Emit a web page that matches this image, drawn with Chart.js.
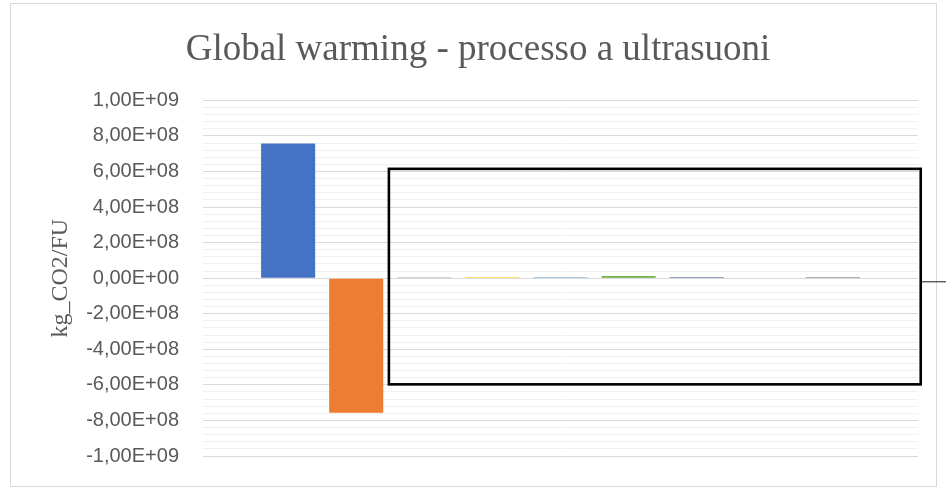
<!DOCTYPE html>
<html>
<head>
<meta charset="utf-8">
<title>Global warming - processo a ultrasuoni</title>
<script src="https://cdn.jsdelivr.net/npm/chart.js@4/dist/chart.umd.min.js"></script>
<style>
  html, body { margin: 0; padding: 0; background: #ffffff; }
  #wrap { position: relative; width: 946px; height: 495px; overflow: hidden; }
  #frame { position: absolute; left: 10px; top: 3px; width: 925px; height: 482px; border: 1px solid #d9d9d9; }
  #chart { position: absolute; left: 0; top: 0; }
</style>
</head>
<body>
<div id="wrap">
  <div id="frame"></div>
  <canvas id="chart" width="946" height="495"></canvas>
</div>
<script>
// Contributions to global warming of the ultrasound process, kg CO2 per functional unit
const categories = ['Contributo 1', 'Contributo 2', 'Contributo 3', 'Contributo 4', 'Contributo 5',
                    'Contributo 6', 'Contributo 7', 'Contributo 8', 'Contributo 9'];
const values = [7.57e8, -7.57e8, 6e6, 6e6, 6e6, 1.3e7, 6e6, 0, 6e6];
const barColors = ['#4472C4', '#ED7D31', '#A5A5A5', '#FFC000', '#5B9BD5', '#70AD47', '#264478', '#9E480E', '#636363'];

// value axis
const yMin = -1e9;
const yMax = 1e9;
const majorStep = 2e8;
const minorStep = 4e7;

// highlight frame around the small contributions (data units), with its leader line
const highlight = { xFrom: 1.48, xTo: 9.29, yFrom: -5.97e8, yTo: 6.15e8, leaderY: -2.0e7 };

function sciComma(v) {
  if (Math.abs(v) < 1) return '0,00E+00';
  const [mant, exp] = v.toExponential(2).split('e');
  const e = parseInt(exp, 10);
  const sign = e < 0 ? '-' : '+';
  const digits = String(Math.abs(e)).padStart(2, '0');
  return mant.replace('.', ',') + 'E' + sign + digits;
}

const isMajor = v => Math.round(v / minorStep) % Math.round(majorStep / minorStep) === 0;

const highlightPlugin = {
  id: 'highlightFrame',
  afterDatasetsDraw(chart) {
    const { ctx, scales: { x, y } } = chart;
    const left = x.getPixelForValue(highlight.xFrom);
    const right = x.getPixelForValue(highlight.xTo);
    const top = y.getPixelForValue(highlight.yTo);
    const bottom = y.getPixelForValue(highlight.yFrom);
    const ly = y.getPixelForValue(highlight.leaderY);
    ctx.save();
    ctx.strokeStyle = '#404040';
    ctx.lineWidth = 1.2;
    ctx.beginPath();
    ctx.moveTo(right, ly);
    ctx.lineTo(chart.width, ly);
    ctx.stroke();
    ctx.strokeStyle = '#000000';
    ctx.lineWidth = 2.6;
    ctx.strokeRect(left, top, right - left, bottom - top);
    ctx.restore();
  }
};

new Chart(document.getElementById('chart'), {
  type: 'bar',
  data: {
    datasets: [{
      label: 'kg_CO2/FU',
      data: categories.map((c, i) => ({ x: i, y: values[i] })),
      backgroundColor: barColors,
      borderWidth: 0,
      categoryPercentage: 1,
      barPercentage: 0.794
    }]
  },
  options: {
    responsive: false,
    animation: false,
    layout: { padding: { left: 38, right: 28, top: 0, bottom: 39 } },
    plugins: {
      legend: { display: false },
      tooltip: { enabled: false },
      title: {
        display: true,
        text: 'Global warming - processo a ultrasuoni',
        color: '#595959',
        font: { family: '"Liberation Serif", "Times New Roman", serif', size: 37, weight: 'normal' },
        padding: { top: 28, bottom: 28 }
      }
    },
    scales: {
      x: {
        type: 'linear',
        offset: false,
        min: -1.25,
        max: 9.25,
        display: false
      },
      y: {
        min: yMin,
        max: yMax,
        afterFit(scale) { scale.width = 165; },
        border: { display: false },
        grid: {
          drawTicks: false,
          color: ctx => isMajor(ctx.tick.value) ? '#d9d9d9' : '#f0f0f0',
          lineWidth: 1
        },
        ticks: {
          stepSize: minorStep,
          maxTicksLimit: 60,
          autoSkip: false,
          padding: 24,
          color: '#595959',
          font: { family: '"Liberation Sans", Arial, sans-serif', size: 20 },
          callback: v => isMajor(v) ? sciComma(v) : ''
        },
        title: {
          display: true,
          text: 'kg_CO2/FU',
          color: '#595959',
          font: { family: '"Liberation Serif", "Times New Roman", serif', size: 24, weight: 'normal' },
          padding: { top: 8, bottom: 0 }
        }
      }
    }
  },
  plugins: [highlightPlugin]
});
</script>
</body>
</html>
